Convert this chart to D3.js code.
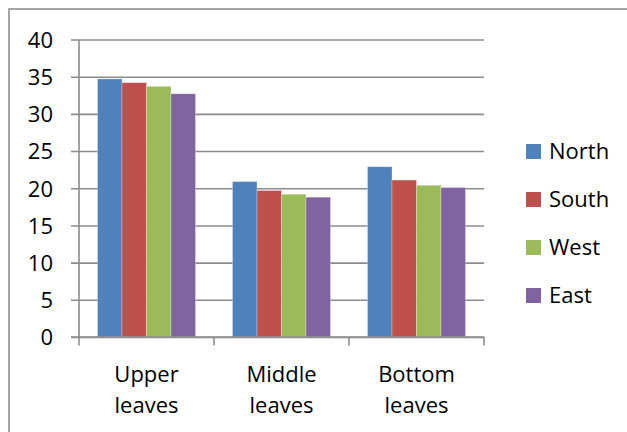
<!DOCTYPE html>
<html>
<head>
<meta charset="utf-8">
<script src="https://cdn.jsdelivr.net/npm/d3@7"></script>
<style>
  html, body { margin: 0; padding: 0; background: #fff; }
  svg { display: block; }
  text { font-family: "Open Sans", "Noto Sans", sans-serif; fill: #000; }
</style>
</head>
<body>
<svg id="chart" width="627" height="432"></svg>
<script>
// Leaf positions on the x axis (each label is split over two lines)
const categories = ["Upper leaves", "Middle leaves", "Bottom leaves"];
const seriesNames = ["North", "South", "West", "East"];
const seriesColors = ["#4F81BD", "#C0504D", "#9BBB59", "#8064A2"];

// One value per leaf position, in the order of the categories
const north = [34.7, 20.9, 22.9];
const south = [34.2, 19.7, 21.1];
const west  = [33.7, 19.2, 20.4];
const east  = [32.7, 18.8, 20.1];

const yTicks = [0, 5, 10, 15, 20, 25, 30, 35, 40];

const seriesValues = [north, south, west, east];

const svg = d3.select("#chart");
const grid = "#8c8c8c";
const fontSize = 22;

// Chart frame
svg.append("rect")
  .attr("x", 9).attr("y", 9)
  .attr("width", 700).attr("height", 500)
  .attr("fill", "none")
  .attr("stroke", "#8f8f8f")
  .attr("stroke-width", 1.6);

const plot = { left: 79, right: 484, top: 39.5, bottom: 337 };

const x0 = d3.scaleBand()
  .domain(categories)
  .range([plot.left, plot.right])
  .paddingInner(0)
  .paddingOuter(0);

const x1 = d3.scaleBand()
  .domain(seriesNames)
  .range([18.5, x0.bandwidth() - 18.5]);

const y = d3.scaleLinear()
  .domain([0, 40])
  .range([plot.bottom, plot.top]);

// Horizontal gridlines with the value axis
const yAxis = d3.axisLeft(y)
  .tickValues(yTicks)
  .tickSize(-(plot.right - plot.left))
  .tickPadding(18)
  .tickFormat(d3.format("d"));

const yg = svg.append("g")
  .attr("transform", `translate(${plot.left},0)`)
  .call(yAxis);
yg.select(".domain").remove();
yg.selectAll(".tick line")
  .attr("x1", -8)
  .attr("stroke", grid)
  .attr("stroke-width", 1.6);
yg.selectAll(".tick text")
  .attr("x", -26)
  .attr("font-size", fontSize)
  .attr("dy", "0.36em")
  .style("font-family", "'Open Sans', sans-serif")
  .attr("fill", "#000");

// Vertical axis line
svg.append("line")
  .attr("x1", plot.left).attr("x2", plot.left)
  .attr("y1", plot.top).attr("y2", plot.bottom)
  .attr("stroke", grid).attr("stroke-width", 1.6);

// Bars
const groups = svg.append("g")
  .selectAll("g")
  .data(categories)
  .join("g")
  .attr("transform", d => `translate(${x0(d)},0)`);

groups.selectAll("rect")
  .data((c, ci) => seriesNames.map((s, si) => ({ s, si, v: seriesValues[si][ci] })))
  .join("rect")
  .attr("x", d => x1(d.s))
  .attr("width", x1.bandwidth())
  .attr("y", d => y(d.v))
  .attr("height", d => y(0) - y(d.v))
  .attr("fill", d => seriesColors[d.si])
  .attr("stroke", "rgba(255,255,255,0.35)")
  .attr("stroke-width", 0.8);

// Category axis with tick marks between groups
const xg = svg.append("g");
xg.append("line")
  .attr("x1", plot.left - 8).attr("x2", plot.right)
  .attr("y1", plot.bottom).attr("y2", plot.bottom)
  .attr("stroke", grid).attr("stroke-width", 1.6);

const boundaries = categories.map(c => x0(c)).concat([x0.range()[1]]);
xg.selectAll("line.tk")
  .data(boundaries)
  .join("line")
  .attr("class", "tk")
  .attr("x1", d => d).attr("x2", d => d)
  .attr("y1", plot.bottom).attr("y2", plot.bottom + 8.5)
  .attr("stroke", grid).attr("stroke-width", 1.6);

const catLabels = xg.selectAll("text.cat")
  .data(categories)
  .join("text")
  .attr("class", "cat")
  .attr("text-anchor", "middle")
  .attr("font-size", fontSize)
  .attr("transform", d => `translate(${x0(d) + x0.bandwidth() / 2},0)`);

catLabels.selectAll("tspan")
  .data(d => d.split(" "))
  .join("tspan")
  .attr("x", 0)
  .attr("y", (d, i) => 382 + i * 31)
  .text(d => d);

// Legend
const legend = svg.append("g")
  .selectAll("g")
  .data(seriesNames)
  .join("g")
  .attr("transform", (d, i) => `translate(526,${151.5 + i * 48})`);

legend.append("rect")
  .attr("x", 0).attr("y", -7.5)
  .attr("width", 15).attr("height", 15)
  .attr("fill", (d, i) => seriesColors[i]);

legend.append("text")
  .attr("x", 23)
  .attr("dy", "0.36em")
  .attr("font-size", fontSize)
  .text(d => d);
</script>
</body>
</html>
